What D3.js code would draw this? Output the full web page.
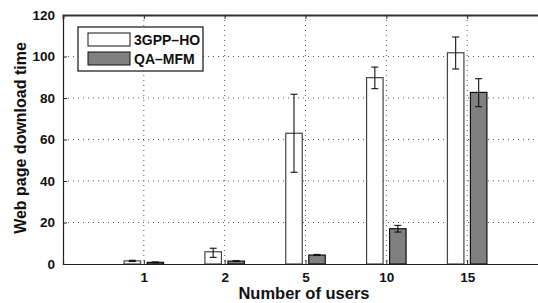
<!DOCTYPE html>
<html>
<head>
<meta charset="utf-8">
<script src="https://cdn.jsdelivr.net/npm/d3@7"></script>
<style>
body { margin: 0; background: #fff; }
svg { display: block; font-family: "Liberation Sans", Arial, sans-serif; font-weight: bold; }
.grid line { stroke: #555; stroke-dasharray: 1 4; stroke-width: 1; }
</style>
</head>
<body>
<svg width="538" height="303"></svg>
<script>
const users = ["1", "2", "5", "10", "15"];
const series = ["3GPP\u2013HO", "QA\u2013MFM"];
const hoMean = [1.5, 5.9, 63, 89.8, 101.8];
const hoLow = [1.2, 3.2, 44.2, 84.5, 94];
const hoHigh = [1.8, 7.6, 81.8, 94.9, 109.4];
const mfmMean = [0.8, 1.4, 4.3, 17, 82.7];
const mfmLow = [0.6, 1.2, 4.1, 15.4, 75.8];
const mfmHigh = [1.0, 1.6, 4.6, 18.6, 89.3];
const yTicks = [0, 20, 40, 60, 80, 100, 120];
const fills = ["#ffffff", "#808080"];

const svg = d3.select("svg");
const margin = {top: 15, left: 63, bottom: 39};
const height = 303 - margin.top - margin.bottom;
const g = svg.append("g").attr("transform", `translate(${margin.left},${margin.top})`);

// category i sits at position i+1, domain runs past the visible right edge
const x = d3.scaleLinear().domain([0, 6]).range([0, 485]);
const y = d3.scaleLinear().domain([0, 120]).range([height, 0]);

// dotted grid
g.append("g").attr("class", "grid")
    .selectAll("line.h").data(yTicks.slice(1, -1)).join("line")
    .attr("x1", 0).attr("x2", 500)
    .attr("y1", (d) => y(d)).attr("y2", (d) => y(d));
g.append("g").attr("class", "grid")
    .selectAll("line.v").data(users).join("line")
    .attr("x1", (d, i) => x(i + 1)).attr("x2", (d, i) => x(i + 1))
    .attr("y1", 0).attr("y2", height);

const data = users.map((u, i) => [
    {i, s: 0, v: hoMean[i], lo: hoLow[i], hi: hoHigh[i]},
    {i, s: 1, v: mfmMean[i], lo: mfmLow[i], hi: mfmHigh[i]}
]).flat();

const bw = 16.5;
const off = 11.5;
const cx = (d) => x(d.i + 1) + (d.s === 0 ? -off : off);

g.selectAll("rect.bar").data(data).join("rect")
    .attr("class", "bar")
    .attr("x", (d) => cx(d) - bw / 2)
    .attr("width", bw)
    .attr("y", (d) => y(d.v))
    .attr("height", (d) => y(0) - y(d.v))
    .attr("fill", (d) => fills[d.s])
    .attr("stroke", (d) => d.s === 0 ? "#444" : "#111")
    .attr("stroke-width", 1.2);

// error bars
const eb = g.selectAll("g.err").data(data).join("g").attr("class", "err")
    .attr("stroke", "#111").attr("stroke-width", 1.1);
eb.append("line")
    .attr("x1", cx).attr("x2", cx)
    .attr("y1", (d) => y(d.lo)).attr("y2", (d) => y(d.hi));
eb.append("line")
    .attr("x1", (d) => cx(d) - 3.5).attr("x2", (d) => cx(d) + 3.5)
    .attr("y1", (d) => y(d.hi)).attr("y2", (d) => y(d.hi));
eb.append("line")
    .attr("x1", (d) => cx(d) - 3.5).attr("x2", (d) => cx(d) + 3.5)
    .attr("y1", (d) => y(d.lo)).attr("y2", (d) => y(d.lo));

// axes
const yAxis = g.append("g")
    .call(d3.axisLeft(y).tickValues(yTicks).tickSize(-4).tickPadding(8));
const xAxis = g.append("g")
    .attr("transform", `translate(0,${height})`)
    .call(d3.axisBottom(x).tickValues([1, 2, 3, 4, 5])
        .tickFormat((d) => users[d - 1]).tickSize(-4).tickPadding(8));
const topAxis = g.append("g")
    .call(d3.axisTop(x).tickValues([1, 2, 3, 4, 5]).tickFormat("").tickSize(-4));
[yAxis, xAxis, topAxis].forEach((a) => {
    a.select(".domain").attr("stroke", "#222").attr("stroke-width", 1.2);
    a.selectAll(".tick line").attr("stroke", "#222");
    a.selectAll("text").attr("font-size", 13.5).attr("font-weight", "bold")
        .attr("font-family", "Liberation Sans, Arial, sans-serif").attr("fill", "#111");
});
topAxis.select(".domain").attr("stroke", "#333").attr("stroke-width", 2);

// axis titles
svg.append("text")
    .attr("x", 304).attr("y", 299)
    .attr("text-anchor", "middle").attr("font-size", 16.5).attr("fill", "#111")
    .text("Number of users");
svg.append("text")
    .attr("transform", `translate(26,138) rotate(-90)`)
    .attr("text-anchor", "middle").attr("font-size", 16).attr("fill", "#111")
    .text("Web page download time");

// legend
const lg = svg.append("g").attr("transform", "translate(78,27)");
lg.append("rect").attr("width", 125).attr("height", 44)
    .attr("fill", "#fff").attr("stroke", "#111").attr("stroke-width", 1.2);
series.forEach((s, i) => {
    lg.append("rect").attr("x", 10).attr("y", 6 + i * 19).attr("width", 42).attr("height", 13)
        .attr("fill", fills[i]).attr("stroke", "#111").attr("stroke-width", 1);
    lg.append("text").attr("x", 56).attr("y", 18 + i * 19)
        .attr("font-size", 14).attr("fill", "#111").text(s);
});
</script>
</body>
</html>
